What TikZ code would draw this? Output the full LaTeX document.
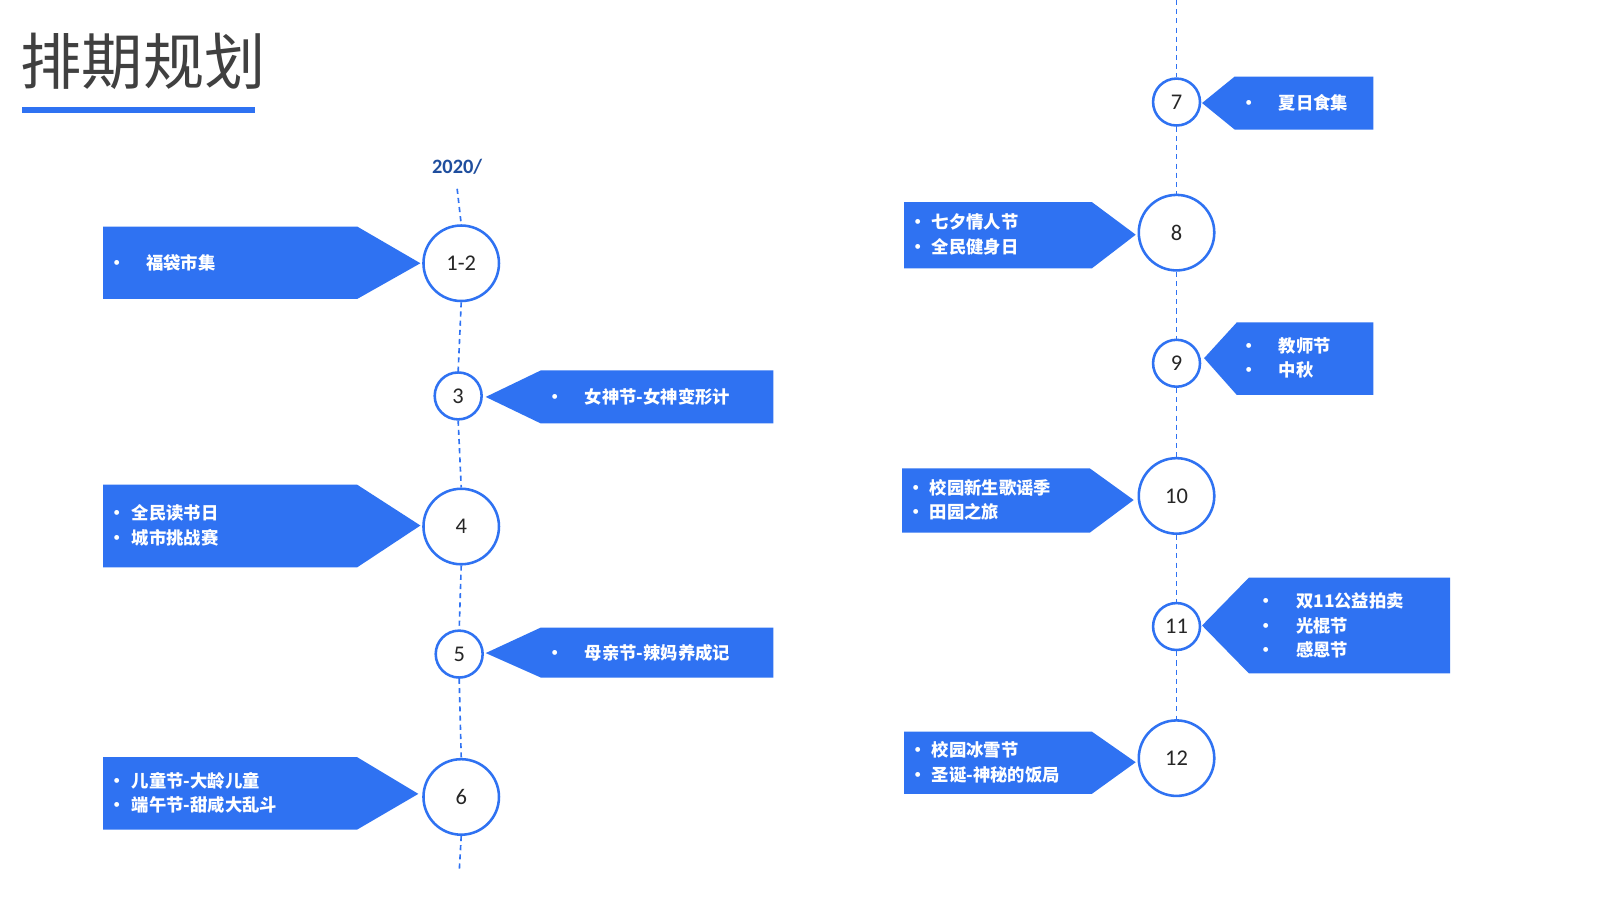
\documentclass[tikz,border=0pt]{standalone}
\usepackage{fontspec}
\setmainfont{Carlito}
\newfontfamily\cjk{Noto Sans CJK SC}
\definecolor{mblue}{HTML}{2F72F2}
\definecolor{dblue}{HTML}{1F4E9E}
\tikzset{
 ring/.style={circle,draw=mblue,line width=2.5pt,fill=white,inner sep=0pt,font=\fontsize{22}{22}\selectfont,text=black!85},
 big/.style={ring,minimum size=74pt},
 small/.style={ring,minimum size=46pt},
 tl/.style={draw=mblue,line width=1.6pt,dash pattern=on 5pt off 4pt},
 box/.style={fill=mblue},
 lbl/.style={anchor=west,align=left,text=white,font=\cjk\bfseries\fontsize{17}{24}\selectfont,inner sep=0pt}
}
\newcommand\bt[2]{\makebox[#1pt][l]{\textbullet}#2}
\begin{document}
\begin{tikzpicture}[x=1pt,y=-1pt]
\useasboundingbox (0,0) rectangle (1568,882);
\fill[white] (0,0) rectangle (1568,882);
% title
\node[anchor=west,inner sep=0pt,text=black!75,font=\cjk\fontsize{60}{60}\selectfont] (title) at (20,60) {排期规划};
\fill[mblue] (22,105) rectangle (250,111);
\node[text=dblue,font=\bfseries\fontsize{20}{20}\selectfont] (yr) at (448,163) {2020/};
% left circles
\node[big] (c12) at (452,258) {1-2};
\node[small] (c3) at (449,388) {3};
\node[big] (c4) at (452,516) {4};
\node[small] (c5) at (450,641) {5};
\node[big] (c6) at (452,781) {6};
\coordinate (ltop) at (448,185);
\coordinate (lbot) at (450,855);
\draw[tl] (ltop) -- (c12.north);
\draw[tl] (c12.south) -- (c3.north);
\draw[tl] (c3.south) -- (c4.north);
\draw[tl] (c4.south) -- (c5.north);
\draw[tl] (c5.south) -- (c6.north);
\draw[tl] (c6.south) -- (lbot);
% right circles
\node[small] (c7) at (1153,100) {7};
\node[big] (c8) at (1153,228) {8};
\node[small] (c9) at (1153,356) {9};
\node[big] (c10) at (1153,486) {10};
\node[small] (c11) at (1153,614) {11};
\node[big] (c12b) at (1153,743) {12};
\coordinate (rtop) at (1153,0);
\draw[tl] (rtop) -- (c7.north);
\draw[tl] (c7.south) -- (c8.north);
\draw[tl] (c8.south) -- (c9.north);
\draw[tl] (c9.south) -- (c10.north);
\draw[tl] (c10.south) -- (c11.north);
\draw[tl] (c11.south) -- (c12b.north);
% callouts pointing right
\fill[box] (101,222) -- (350,222) -- (412,258) -- (350,293) -- (101,293) -- cycle;
\node[lbl] (t12) at (106,258) {\bt{37}{福袋市集}};
\fill[box] (101,475) -- (350,475) -- (412,515) -- (350,556) -- (101,556) -- cycle;
\node[lbl] (t4) at (106,515) {\bt{23}{全民读书日}\\\bt{23}{城市挑战赛}};
\fill[box] (101,742) -- (350,742) -- (410,778) -- (350,813) -- (101,813) -- cycle;
\node[lbl] (t6) at (106,777) {\bt{23}{儿童节-大龄儿童}\\\bt{23}{端午节-甜咸大乱斗}};
\fill[box] (886,198) -- (1070,198) -- (1113,230) -- (1070,263) -- (886,263) -- cycle;
\node[lbl] (t8) at (891,230) {\bt{22}{七夕情人节}\\\bt{22}{全民健身日}};
\fill[box] (884,459) -- (1068,459) -- (1111,490) -- (1068,522) -- (884,522) -- cycle;
\node[lbl] (t10) at (889,490) {\bt{22}{校园新生歌谣季}\\\bt{22}{田园之旅}};
\fill[box] (886,717) -- (1070,717) -- (1113,747) -- (1070,778) -- (886,778) -- cycle;
\node[lbl] (t12b) at (891,747) {\bt{22}{校园冰雪节}\\\bt{22}{圣诞-神秘的饭局}};
% callouts pointing left
\fill[box] (476,389) -- (530,363) -- (758,363) -- (758,415) -- (530,415) -- cycle;
\node[lbl] (t3) at (535,389) {\bt{38}{女神节-女神变形计}};
\fill[box] (476,640) -- (530,615) -- (758,615) -- (758,664) -- (530,664) -- cycle;
\node[lbl] (t5) at (535,640) {\bt{38}{母亲节-辣妈养成记}};
\fill[box] (1178,101) -- (1210,75) -- (1346,75) -- (1346,127) -- (1210,127) -- cycle;
\node[lbl] (t7) at (1215,101) {\bt{38}{夏日食集}};
\fill[box] (1180,351) -- (1212,316) -- (1346,316) -- (1346,387) -- (1212,387) -- cycle;
\node[lbl] (t9) at (1215,351) {\bt{38}{教师节}\\\bt{38}{中秋}};
\fill[box] (1178,613) -- (1224,566) -- (1421,566) -- (1421,660) -- (1224,660) -- cycle;
\node[lbl] (t11) at (1232,613) {\bt{38}{双11公益拍卖}\\\bt{38}{光棍节}\\\bt{38}{感恩节}};
\end{tikzpicture}
\end{document}
